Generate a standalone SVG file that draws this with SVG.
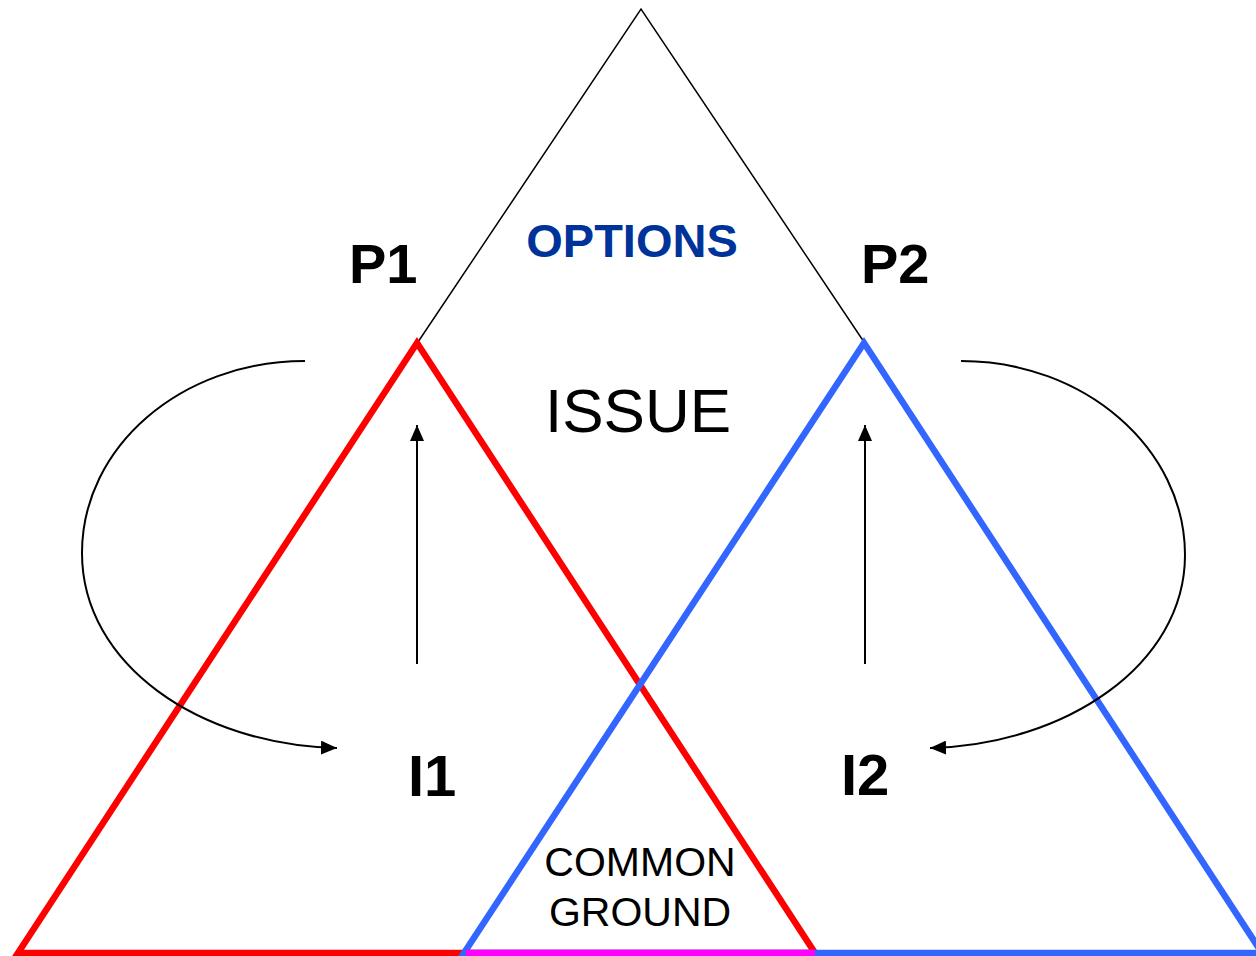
<svg xmlns="http://www.w3.org/2000/svg" width="1256" height="956" viewBox="0 0 1256 956">
<style>
.thin{fill:none;stroke:#000;stroke-width:1.5}
.conn{fill:none;stroke:#000;stroke-width:2}
.tri{fill:none;stroke-width:6.5;stroke-linejoin:miter}
.lbl{font-family:"Liberation Sans",Arial,sans-serif;fill:#000}
.b{font-weight:bold}
</style>
<defs>
<marker id="ah" viewBox="0 0 16 14" refX="16" refY="7" markerWidth="16" markerHeight="14" markerUnits="userSpaceOnUse" orient="auto">
<path d="M0,0 L16,7 L0,14 z" fill="#000"/>
</marker>
</defs>
<rect width="1256" height="956" fill="#fff"/>
<g id="options-triangle">
<polyline class="thin" points="418,342 641,9 864,342"/>
</g>
<g id="p1-triangle">
<polygon class="tri" stroke="#FF0000" points="417,343 18,953 815,953"/>
</g>
<g id="p2-triangle">
<polygon class="tri" stroke="#3366FF" points="864,343 464,953 1262,953"/>
</g>
<g id="common-ground-base">
<line x1="466" y1="953" x2="815" y2="953" stroke="#FF00FF" stroke-width="6.5"/>
</g>
<g id="connectors">
<path class="conn" d="M305,361 C181,361 82,447 82,553 C82,665 200,745 337,748" marker-end="url(#ah)"/>
<path class="conn" d="M961,361 C1085,361 1185,449 1185,555 C1185,665 1065,745 930,748" marker-end="url(#ah)"/>
<path class="conn" d="M417,664 L417,425" marker-end="url(#ah)"/>
<path class="conn" d="M865,664 L865,425" marker-end="url(#ah)"/>
</g>
<g id="options"><text class="lbl b" x="632" y="257" font-size="47" text-anchor="middle" style="fill:#003399">OPTIONS</text></g>
<g id="issue"><text class="lbl" x="638" y="432" font-size="62" text-anchor="middle">ISSUE</text></g>
<g id="p1"><text class="lbl b" x="349" y="283" font-size="56">P1</text></g>
<g id="p2"><text class="lbl b" x="861" y="283" font-size="56">P2</text></g>
<g id="i1"><text class="lbl b" x="408" y="796" font-size="58">I1</text></g>
<g id="i2"><text class="lbl b" x="841" y="795" font-size="58">I2</text></g>
<g id="common-ground">
<text class="lbl" x="640" y="876" font-size="41" text-anchor="middle">COMMON</text>
<text class="lbl" x="640" y="926" font-size="41" text-anchor="middle">GROUND</text>
</g>
</svg>
